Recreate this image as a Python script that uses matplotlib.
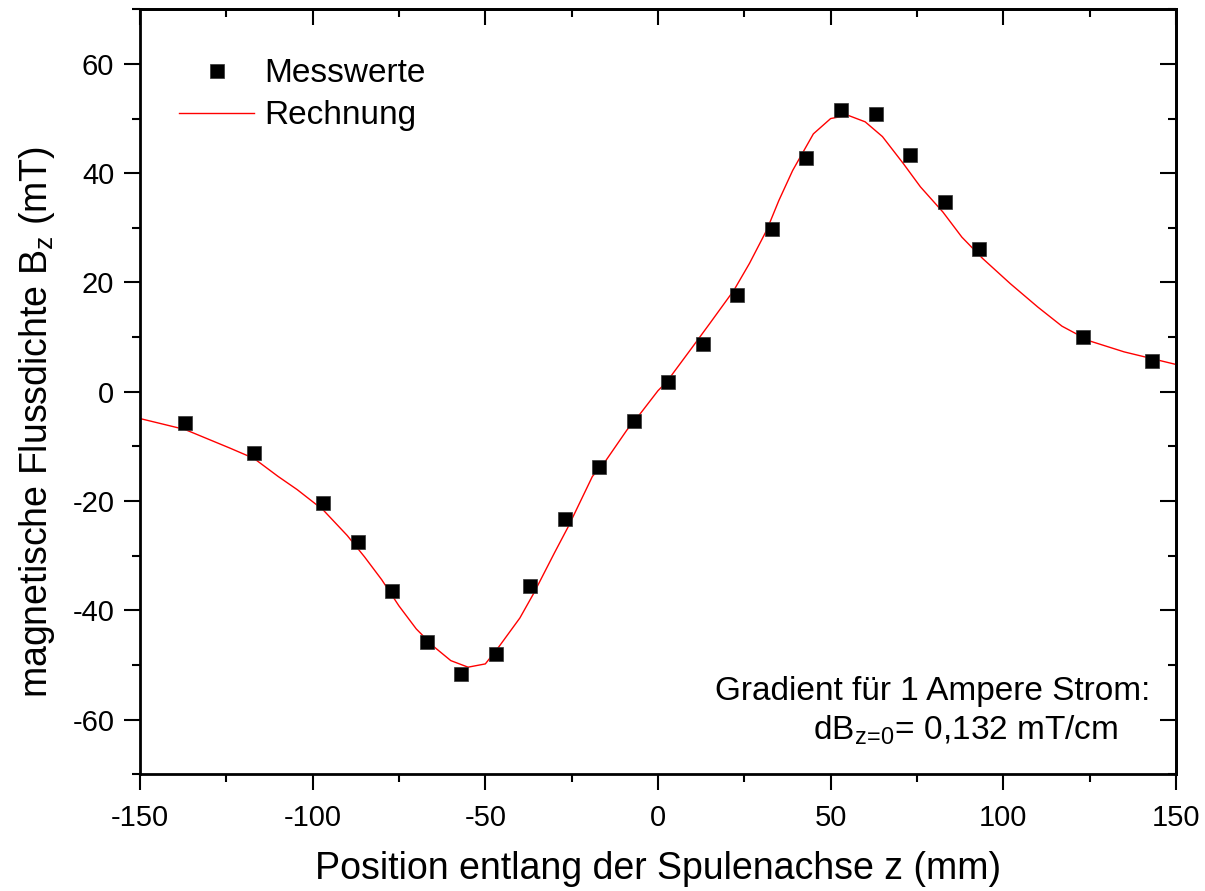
"""
Magnetic flux density along the coil axis: measured values vs. calculation.
Saves out.png
"""
import matplotlib
matplotlib.use("Agg")
import matplotlib.pyplot as plt
from matplotlib.ticker import MultipleLocator

plt.rcParams["font.family"] = ["Liberation Sans", "DejaVu Sans"]
plt.rcParams["mathtext.fontset"] = "custom"
plt.rcParams["mathtext.rm"] = "Liberation Sans"
plt.rcParams["axes.unicode_minus"] = False

# Messwerte (mm, mT)
Z_MESS = [-137, -117, -97, -87, -77, -67, -57, -47, -37, -27, -17, -7,
          3, 13, 23, 33, 43, 53, 63, 73, 83, 93, 123, 143]
B_MESS = [-5.8, -11.2, -20.3, -27.5, -36.5, -45.8, -51.6, -48.0, -35.5, -23.2, -13.8, -5.4,
          1.7, 8.8, 17.7, 29.7, 42.8, 51.6, 50.9, 43.3, 34.7, 26.1, 10.1, 5.6]

# Rechnung
Z_CALC = [-150, -137, -124, -117, -110, -104.5, -97, -90, -85, -80, -75, -70, -65, -60,
          -55, -50, -46, -40, -36, -30, -26, -19, -15, -9, -5, 0, 2.5, 10, 15, 22,
          26.5, 31.5, 35, 39, 45, 50, 55, 60, 65, 71, 76, 82.5, 88, 94, 102, 110,
          117, 125, 135, 150]
B_CALC = [-4.9, -6.9, -10.3, -12.2, -15.5, -17.9, -21.6, -26.3, -30.2, -34.4, -39.2, -43.4,
          -46.6, -49.2, -50.4, -49.8, -46.6, -41.4, -36.9, -29.5, -24.7, -15.5, -12.5,
          -7.0, -3.9, 0.2, 1.8, 8.2, 12.5, 18.6, 23.5, 29.6, 35.0, 40.5, 47.2, 50.0,
          50.6, 49.4, 46.7, 41.8, 37.5, 32.9, 28.3, 24.4, 19.8, 15.5, 12.0, 9.3, 7.3, 5.0]

fig = plt.figure(figsize=(12.05, 8.91), dpi=100)
ax = fig.add_axes([0.1162, 0.1310, 0.8597, 0.8586])

ax.plot(Z_MESS, B_MESS, linestyle="none", marker="s", markersize=10,
        color="black", markeredgecolor="#333333", markeredgewidth=0.5,
        label="Messwerte", zorder=3)
ax.plot(Z_CALC, B_CALC, color="red", lw=1.0, label="Rechnung", zorder=2)

ax.set_xlim(-150, 150)
ax.set_ylim(-70, 70)
ax.xaxis.set_major_locator(MultipleLocator(50))
ax.xaxis.set_minor_locator(MultipleLocator(25))
ax.yaxis.set_major_locator(MultipleLocator(20))
ax.yaxis.set_minor_locator(MultipleLocator(10))
ax.tick_params(which="both", direction="out", width=1.5, labelsize=21, pad=7)
ax.tick_params(axis="x", pad=10)
ax.tick_params(which="major", length=11.5)
ax.tick_params(which="minor", length=5.8)
for s in ax.spines.values():
    s.set_linewidth(2)

# mirrored ticks pointing inward on top / right
top = ax.secondary_xaxis("top")
right = ax.secondary_yaxis("right")
for sec, loc_maj, loc_min in ((top, 50, 25), (right, 20, 10)):
    sec_axis = sec.xaxis if sec is top else sec.yaxis
    sec_axis.set_major_locator(MultipleLocator(loc_maj))
    sec_axis.set_minor_locator(MultipleLocator(loc_min))
    sec.tick_params(which="both", direction="in", width=1.5,
                    labeltop=False, labelright=False)
    sec.tick_params(which="major", length=11.5)
    sec.tick_params(which="minor", length=5.8)
    for s in sec.spines.values():
        s.set_linewidth(2)

ax.set_xlabel("Position entlang der Spulenachse z (mm)", fontsize=27)
ax.set_ylabel(r"magnetische Flussdichte B$_\mathregular{z}$ (mT)", fontsize=27)
ax.xaxis.set_label_coords(0.5, -0.1)
ax.yaxis.set_label_coords(-0.08, 0.46)

ax.legend(loc="upper left", bbox_to_anchor=(0.038, 0.936), frameon=False,
          fontsize=24, handlelength=2.25, handletextpad=0.3, labelspacing=0.33,
          borderpad=0, borderaxespad=0)

ax.text(0.975, 0.108, "Gradient für 1 Ampere Strom:", transform=ax.transAxes,
        ha="right", va="center", fontsize=24)
ax.text(0.650, 0.058, r"dB$_\mathregular{z\!=\!0}$= 0,132 mT/cm", transform=ax.transAxes,
        ha="left", va="center", fontsize=24)

plt.savefig("out.png", dpi=100)
plt.close()
